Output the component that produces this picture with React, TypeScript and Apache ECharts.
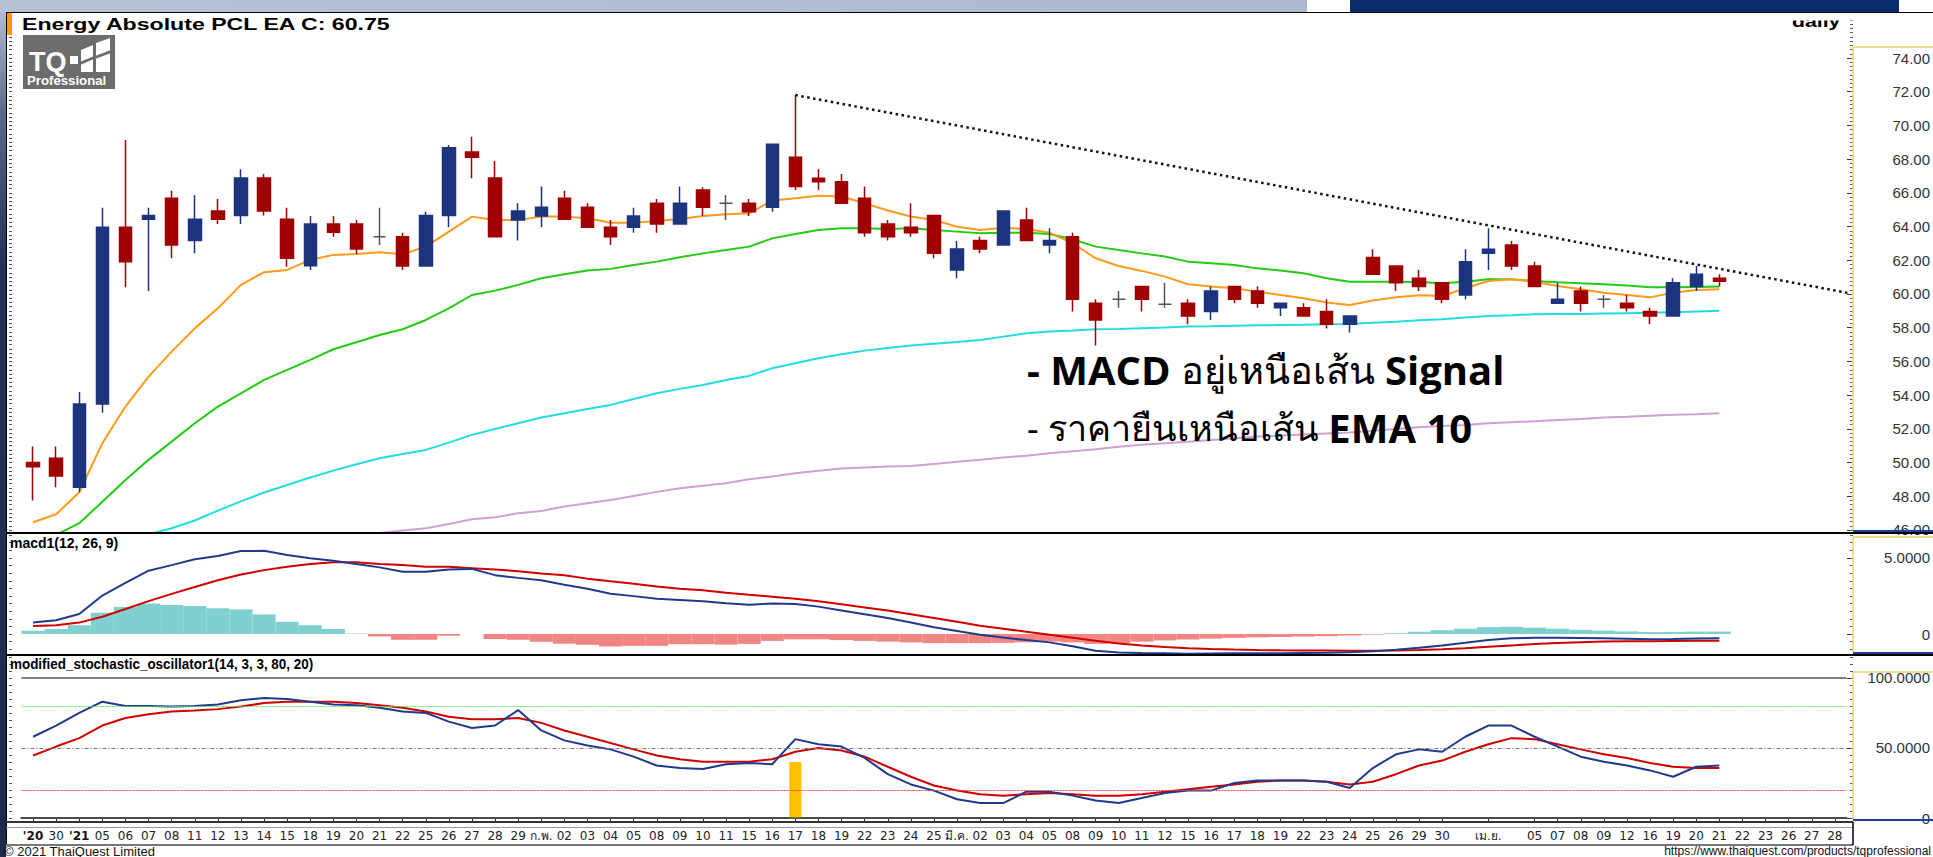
import React, { useEffect, useRef } from "react";
import * as echarts from "echarts";

// ---------- categories (trading days + future slots) ----------
const dateLabels = [
  "'20", "30", "'21", "05", "06", "07", "08", "11", "12", "13",
  "14", "15", "18", "19", "20", "21", "22", "25", "26", "27",
  "28", "29", "ก.พ.", "02", "03", "04", "05", "08", "09", "10",
  "11", "15", "16", "17", "18", "19", "22", "23", "24", "25",
  "มี.ค.", "02", "03", "04", "05", "08", "09", "10", "11", "12",
  "15", "16", "17", "18", "19", "22", "23", "24", "25", "26",
  "29", "30", "", "เม.ย.", "", "05", "07", "08", "09", "12",
  "16", "19", "20", "21", "22", "23", "26", "27", "28",
];

// ---------- price (OHLC) ----------
const opens = [
  50.0, 50.25, 48.53, 53.48, 63.96, 64.43, 65.68, 63.17, 64.92, 64.65,
  66.88, 64.43, 61.68, 64.15, 64.15, 63.4, 63.4, 61.66, 64.65, 68.42,
  66.88, 64.39, 64.63, 65.68, 65.14, 63.96, 63.96, 65.38, 64.15, 66.17,
  65.38, 65.38, 65.14, 68.11, 66.86, 66.66, 65.68, 64.15, 63.96, 64.65,
  61.43, 63.17, 62.91, 64.39, 62.91, 63.4, 59.45, 59.69, 60.44, 59.39,
  59.45, 58.96, 60.44, 60.18, 59.19, 59.19, 58.96, 58.2, 62.16, 61.66,
  60.93, 60.67, 59.94, 62.41, 62.91, 61.66, 59.45, 60.18, 59.69, 59.45,
  58.96, 58.7, 60.44, 60.93,
];
const closes = [
  49.75, 49.2, 53.48, 63.96, 61.92, 64.65, 62.91, 64.43, 64.43, 66.88,
  64.92, 62.12, 64.15, 63.66, 62.67, 63.4, 61.66, 64.65, 68.68, 68.11,
  63.4, 64.92, 65.14, 64.43, 63.96, 63.4, 64.63, 64.15, 65.38, 65.14,
  65.38, 64.88, 68.88, 66.37, 66.66, 65.38, 63.64, 63.4, 63.64, 62.41,
  62.67, 62.67, 64.92, 63.17, 63.17, 59.69, 58.46, 59.69, 59.69, 59.39,
  58.7, 60.18, 59.69, 59.45, 59.45, 58.7, 58.2, 58.7, 61.17, 60.67,
  60.44, 59.69, 61.92, 62.65, 61.66, 60.44, 59.69, 59.45, 59.69, 59.19,
  58.7, 60.67, 61.17, 60.75,
];
const lows = [
  47.75, 48.53, 48.24, 52.96, 60.4, 60.18, 62.12, 62.41, 64.15, 64.15,
  64.65, 61.62, 61.43, 63.4, 62.37, 62.91, 61.43, 61.66, 63.96, 66.86,
  63.4, 63.17, 63.96, 64.43, 63.96, 62.91, 63.64, 63.64, 64.15, 64.63,
  64.39, 64.63, 64.88, 66.17, 66.17, 65.38, 63.4, 63.17, 63.4, 62.12,
  60.93, 62.41, 62.91, 63.17, 62.41, 58.96, 56.94, 59.19, 58.96, 59.19,
  58.2, 58.46, 59.45, 59.19, 58.7, 58.7, 57.96, 57.71, 61.17, 60.18,
  60.18, 59.45, 59.69, 61.43, 61.43, 60.44, 59.45, 58.96, 59.19, 58.96,
  58.2, 58.7, 60.18, 60.44,
];
const highs = [
  50.95, 50.95, 54.19, 65.12, 69.14, 65.12, 66.13, 65.87, 65.64, 67.4,
  67.12, 65.12, 64.63, 64.63, 64.39, 65.12, 63.64, 64.88, 68.84, 69.33,
  67.89, 65.38, 66.37, 66.13, 65.38, 64.39, 65.12, 65.64, 66.37, 66.33,
  65.87, 65.64, 68.88, 71.8, 67.4, 67.12, 66.37, 64.39, 65.38, 64.65,
  63.15, 63.4, 64.92, 65.12, 63.9, 63.64, 59.69, 60.18, 60.44, 60.67,
  59.69, 60.44, 60.44, 60.44, 59.45, 59.45, 59.69, 58.7, 62.65, 61.66,
  61.43, 60.67, 62.65, 63.9, 63.15, 61.92, 60.67, 60.44, 59.94, 59.94,
  59.19, 60.93, 61.66, 61.17,
];

// ---------- moving averages ----------
const ema10 = [
  46.46, 46.93, 48.24, 51.15, 53.32, 55.1, 56.58, 57.96, 59.15, 60.54,
  61.29, 61.43, 62.02, 62.32, 62.37, 62.47, 62.36, 62.81, 63.7, 64.59,
  64.39, 64.39, 64.59, 64.59, 64.49, 64.23, 64.23, 64.33, 64.45, 64.63,
  64.73, 64.79, 65.54, 65.68, 65.83, 65.78, 65.38, 64.95, 64.6, 64.39,
  63.99, 63.8, 63.93, 63.86, 63.64, 63.01, 62.12, 61.66, 61.37, 61.03,
  60.58, 60.44, 60.34, 60.14, 59.94, 59.75, 59.49, 59.35, 59.61, 59.8,
  59.92, 59.88, 60.34, 60.77, 60.87, 60.73, 60.48, 60.28, 60.08, 59.94,
  59.8, 60.08, 60.24, 60.28,
];
const ema25 = [
  null, 45.71, 46.4, 47.68, 48.97, 50.16, 51.24, 52.33, 53.32, 54.11,
  54.9, 55.5, 56.09, 56.72, 57.14, 57.57, 57.91, 58.46, 59.15, 59.94,
  60.2, 60.54, 60.93, 61.17, 61.39, 61.49, 61.72, 61.92, 62.18, 62.41,
  62.61, 62.81, 63.3, 63.56, 63.8, 63.9, 63.9, 63.86, 63.9, 63.8,
  63.7, 63.6, 63.64, 63.64, 63.56, 63.25, 62.81, 62.61, 62.41, 62.22,
  61.92, 61.82, 61.72, 61.52, 61.39, 61.23, 60.93, 60.73, 60.73, 60.73,
  60.71, 60.63, 60.73, 60.87, 60.87, 60.77, 60.69, 60.63, 60.58, 60.5,
  60.4, 60.4, 60.42, 60.44,
];
const ema75 = [
  null, null, null, null, null, 45.75, 46.1, 46.56, 47.15, 47.7,
  48.22, 48.67, 49.11, 49.52, 49.9, 50.26, 50.51, 50.75, 51.18, 51.64,
  51.99, 52.33, 52.67, 52.92, 53.18, 53.42, 53.77, 54.11, 54.37, 54.6,
  54.9, 55.14, 55.6, 55.89, 56.19, 56.42, 56.64, 56.8, 56.95, 57.05,
  57.15, 57.27, 57.47, 57.67, 57.77, 57.83, 57.91, 57.93, 57.97, 58.01,
  58.07, 58.08, 58.12, 58.14, 58.16, 58.18, 58.2, 58.22, 58.3, 58.36,
  58.44, 58.5, 58.6, 58.7, 58.74, 58.8, 58.82, 58.82, 58.84, 58.86,
  58.88, 58.92, 58.96, 59.0,
];
const ema200 = [
  null, null, null, null, null, null, null, null, null, null,
  null, null, null, null, null, 45.82, 45.97, 46.1, 46.36, 46.64,
  46.76, 46.99, 47.13, 47.39, 47.59, 47.78, 48.02, 48.26, 48.48, 48.63,
  48.77, 49.01, 49.17, 49.37, 49.52, 49.64, 49.7, 49.76, 49.8, 49.92,
  50.04, 50.16, 50.3, 50.41, 50.55, 50.67, 50.79, 50.93, 51.05, 51.14,
  51.24, 51.34, 51.44, 51.54, 51.6, 51.66, 51.72, 51.78, 51.88, 51.99,
  52.09, 52.17, 52.23, 52.33, 52.39, 52.45, 52.53, 52.59, 52.67, 52.71,
  52.77, 52.83, 52.87, 52.93,
];
const trendStart = [33, 71.8];
const trendEnd = [78.5, 59.95];

// ---------- MACD(12,26,9) ----------
const macdLine = [
  0.75, 0.91, 1.31, 2.53, 3.36, 4.16, 4.53, 4.91, 5.13, 5.45,
  5.47, 5.2, 4.98, 4.82, 4.6, 4.38, 4.09, 4.09, 4.24, 4.28,
  3.87, 3.69, 3.53, 3.24, 2.98, 2.64, 2.49, 2.31, 2.24, 2.16,
  2.02, 1.93, 2.0, 1.97, 1.8, 1.55, 1.3, 1.05, 0.75, 0.45,
  0.2, -0.05, -0.23, -0.4, -0.55, -0.8, -1.1, -1.22, -1.25, -1.27,
  -1.29, -1.28, -1.27, -1.27, -1.27, -1.25, -1.23, -1.2, -1.14, -1.03,
  -0.9, -0.75, -0.58, -0.39, -0.28, -0.24, -0.24, -0.26, -0.28, -0.31,
  -0.34, -0.32, -0.29, -0.28,
];
const signalLine = [
  0.53, 0.58, 0.75, 1.13, 1.64, 2.16, 2.64, 3.09, 3.53, 3.91,
  4.2, 4.42, 4.6, 4.71, 4.71, 4.6, 4.53, 4.42, 4.42, 4.33,
  4.24, 4.13, 3.98, 3.87, 3.64, 3.47, 3.31, 3.13, 2.98, 2.87,
  2.72, 2.58, 2.45, 2.32, 2.15, 1.95, 1.75, 1.55, 1.3, 1.05,
  0.8, 0.55, 0.35, 0.15, -0.05, -0.25, -0.45, -0.62, -0.75, -0.85,
  -0.93, -0.98, -1.02, -1.05, -1.07, -1.08, -1.09, -1.1, -1.1, -1.08,
  -1.05, -1.0, -0.93, -0.84, -0.75, -0.66, -0.59, -0.54, -0.5, -0.48,
  -0.47, -0.46, -0.45, -0.44,
];
const macdHist = [
  0.22, 0.33, 0.58, 1.4, 1.78, 2.0, 1.91, 1.84, 1.69, 1.62,
  1.29, 0.8, 0.58, 0.33, 0.03, -0.16, -0.38, -0.38, -0.11, 0,
  -0.33, -0.38, -0.51, -0.64, -0.71, -0.82, -0.78, -0.78, -0.67, -0.67,
  -0.7, -0.65, -0.45, -0.35, -0.35, -0.4, -0.45, -0.5, -0.55, -0.6,
  -0.6, -0.6, -0.58, -0.55, -0.5, -0.55, -0.65, -0.6, -0.5, -0.42,
  -0.36, -0.3, -0.25, -0.22, -0.2, -0.17, -0.14, -0.1, -0.04, 0.05,
  0.15, 0.25, 0.35, 0.45, 0.47, 0.42, 0.35, 0.28, 0.22, 0.17,
  0.13, 0.14, 0.16, 0.16,
];

// ---------- modified stochastic (14,3,3,80,20) ----------
const stochK = [
  58, 66, 75, 83, 80, 80, 79.5, 80, 81, 84,
  85.7, 85, 83, 81, 80.4, 78.6, 76, 75, 68.8, 64.3,
  66, 77, 62.5, 55.4, 51.8, 49, 43.8, 37.5, 35.7, 35,
  38.4, 39.3, 38.4, 56.3, 52.7, 51, 42.9, 31.3, 24, 19.6,
  13.4, 10.7, 10.7, 18.8, 18.8, 16, 12.5, 10.7, 14.3, 17.9,
  19.6, 19.6, 25, 26.8, 26.8, 26.8, 25.9, 21.4, 35.7, 45.5,
  49, 47.3, 58, 66, 66, 58, 51, 43.8, 40.2, 37.5,
  34, 29.5, 36.6, 37.5,
];
const stochD = [
  44.6, 51, 57, 66, 71.4, 74, 76, 76.8, 77.7, 79.5,
  82, 83, 83, 83, 82, 80.4, 78.6, 76, 72.3, 70.5,
  70.5, 71.4, 67.9, 62.5, 58, 53.6, 49, 44.6, 42, 40.2,
  40.2, 40.2, 42, 47.3, 50, 48.2, 43.8, 36.6, 29.5, 23.2,
  19.6, 17, 16, 17, 17.9, 17, 16, 16, 17, 18.8,
  20.5, 22.3, 24, 25.9, 26.8, 26.8, 25.9, 24, 25.9, 31.3,
  37.5, 41, 47.3, 52.7, 57, 56.3, 52.7, 49, 45.5, 42.9,
  39.3, 36.6, 35.7, 35.7,
];
const stochSignalIndex = 33;
const stochSignalValue = 40;
const stochLevels = [100, 80, 50, 20, 0];

// ---------- axis label values ----------
const priceLabels = [46, 48, 50, 52, 54, 56, 58, 60, 62, 64, 66, 68, 70, 72, 74];
const macdLabels = [0, 5];
const stochLabels = [0, 50, 100];

const W = 1933;
const H = 857;
const AX = 1853; // x of the right axis line
const GL = 21.5; // grid left
const GR = W - (GL + 79 * 23.1); // grid right (slot width 23.1)

function range(a: number, b: number, step: number) {
  const out: number[] = [];
  for (let v = a; v <= b + 1e-9; v += step) out.push(Math.round(v * 1000) / 1000);
  return out;
}

function buildOption() {
  const N = dateLabels.length;
  const pad = (arr: any[]) => arr.concat(new Array(N - arr.length).fill(null));
  const candles = opens.map((o, i) => [o, closes[i], lows[i], highs[i]]);
  const hist = macdHist.map((v) => ({
    value: v,
    itemStyle: { color: v >= 0 ? "#80d0d0" : "#f28482" },
  }));
  const signalBars = dateLabels.map((_, i) => (i === stochSignalIndex ? stochSignalValue : null));

  const grids = [
    { left: GL, right: GR, top: 12, height: 521 },
    { left: GL, right: GR, top: 533, height: 122 },
    { left: GL, right: GR, top: 655, height: 167 },
  ];
  const ranges = [
    [45.82, 76.73],
    [-1.38, 6.64],
    [-2.8, 116.3],
  ];
  const labelSets = [priceLabels, macdLabels, stochLabels];
  const fmt = [
    (v: number) => v.toFixed(2),
    (v: number) => (v === 0 ? "0" : v.toFixed(4)),
    (v: number) => (v === 0 ? "0" : v.toFixed(4)),
  ];
  const tickSteps = [0.25, 0.5, 5];
  const gridRightX = W - GR;

  const yAxis: any[] = [];
  for (let g = 0; g < 3; g++) {
    const [mn, mx] = ranges[g];
    yAxis.push({
      type: "value", gridIndex: g, position: "right", min: mn, max: mx,
      offset: AX - gridRightX,
      axisLine: { show: false }, splitLine: { show: false },
      axisTick: { show: true, inside: true, length: 6, customValues: labelSets[g], lineStyle: { color: "#333" } },
      axisLabel: {
        customValues: labelSets[g], formatter: fmt[g], align: "right", margin: 1930 - AX,
        fontSize: 15, color: "#333", fontFamily: "Liberation Sans, Arial, sans-serif",
      },
    });
    const ticks = range(Math.ceil(mn / tickSteps[g]) * tickSteps[g], mx, tickSteps[g]);
    yAxis.push({
      type: "value", gridIndex: g, position: "right", min: mn, max: mx,
      offset: AX - gridRightX,
      axisLine: { show: false }, splitLine: { show: false }, axisLabel: { show: false },
      axisTick: { show: true, inside: true, length: 3, customValues: ticks, lineStyle: { color: "#555" } },
    });
    yAxis.push({
      type: "value", gridIndex: g, position: "left", min: mn, max: mx,
      offset: GL - 9,
      axisLine: { show: false }, splitLine: { show: false }, axisLabel: { show: false },
      axisTick: { show: true, inside: true, length: 3, customValues: ticks, lineStyle: { color: "#555" } },
    });
  }

  const xAxis: any[] = [0, 1, 2].map((g) => ({
    type: "category", gridIndex: g, data: dateLabels, boundaryGap: true,
    show: g === 2,
    axisLine: { show: true, lineStyle: { color: "#333", width: 2 } },
    axisTick: {
      show: true, alignWithLabel: true, length: 4, lineStyle: { color: "#333" },
      interval: (i: number) => dateLabels[i] !== "",
    },
    axisLabel: {
      interval: 0, fontSize: 12, color: "#222", margin: 8,
      fontFamily: "DejaVu Sans, Tahoma, sans-serif",
      formatter: (v: string) => (v.startsWith("'") ? `{b|${v}}` : v),
      rich: { b: { fontWeight: "bold", fontSize: 12, fontFamily: "DejaVu Sans, sans-serif", color: "#111" } },
    },
  }));

  const lineS = (name: string, data: any[], color: string, xi: number, yi: number, width = 2) => ({
    name, type: "line", data: pad(data), xAxisIndex: xi, yAxisIndex: yi,
    symbol: "none", showSymbol: false, connectNulls: false, clip: true,
    lineStyle: { color, width }, silent: true, z: 3,
  });

  const series: any[] = [
    lineS("EMA200", ema200, "#cf9fd6", 0, 0),
    lineS("EMA75", ema75, "#22dde0", 0, 0),
    lineS("EMA25", ema25, "#22cc11", 0, 0),
    lineS("EMA10", ema10, "#ff9a1a", 0, 0),
    {
      name: "EA", type: "candlestick", xAxisIndex: 0, yAxisIndex: 0, data: candles,
      barWidth: 13, z: 4,
      itemStyle: {
        color: "#1c347e", color0: "#a00000", borderColor: "#1c347e", borderColor0: "#a00000",
        borderColorDoji: "#555555", borderWidth: 1.5,
      },
    },
    {
      name: "trend", type: "line", xAxisIndex: 0, yAxisIndex: 0, data: [trendStart, trendEnd],
      symbol: "none", clip: false, lineStyle: { color: "#111", width: 2.5, type: [2.5, 3.5] }, z: 5, silent: true,
    },
    {
      name: "hist", type: "bar", xAxisIndex: 1, yAxisIndex: 3, data: pad(hist),
      barCategoryGap: "0%", z: 2, silent: true,
    },
    lineS("Signal", signalLine, "#d00000", 1, 3),
    lineS("MACD", macdLine, "#1f3a8c", 1, 3),
    {
      name: "sig", type: "bar", xAxisIndex: 2, yAxisIndex: 6, data: signalBars, barWidth: 12,
      itemStyle: { color: "#ffc000" }, z: 2, silent: true,
    },
    {
      ...lineS("%D", stochD, "#d00000", 2, 6),
      markLine: {
        silent: true, symbol: "none", label: { show: false }, animation: false,
        data: [
          { yAxis: stochLevels[0], lineStyle: { color: "#555", width: 1.5, type: "solid" } },
          { yAxis: stochLevels[1], lineStyle: { color: "#55ee55", width: 1, type: [2, 1] } },
          { yAxis: stochLevels[2], lineStyle: { color: "#777", width: 1, type: [4, 2, 1, 2] } },
          { yAxis: stochLevels[3], lineStyle: { color: "#ee4444", width: 1, type: [2, 1] } },
          { yAxis: stochLevels[4], lineStyle: { color: "#555", width: 1.5, type: "solid" } },
        ],
      },
    },
    lineS("%K", stochK, "#1f3a8c", 2, 6),
  ];

  const txt = (x: number, y: number, text: string, o: any = {}) => ({
    type: "text", x, y, z: 100, silent: true,
    style: { text, fill: "#000", font: "bold 14px 'Liberation Sans', Arial, sans-serif", textVerticalAlign: "middle", ...o },
  });
  const ln = (x1: number, y1: number, x2: number, y2: number, stroke: string, w = 1) => ({
    type: "line", z: 100, silent: true, shape: { x1, y1, x2, y2 }, style: { stroke, lineWidth: w },
  });
  const rc = (x: number, y: number, width: number, height: number, fill: any, z = 90) => ({
    type: "rect", z, silent: true, shape: { x, y, width, height }, style: { fill },
  });

  const graphic: any[] = [
    // window frame
    rc(0, 0, W, 12, new echarts.graphic.LinearGradient(0, 0, 1, 0, [
      { offset: 0, color: "#b6c1d6" }, { offset: 1, color: "#a9b6cd" },
    ])),
    rc(1307, 0, 43, 12, "#ffffff"),
    rc(1350, 0, 549, 12, "#0b2c6c"),
    rc(1899, 0, 34, 12, "#ffffff"),
    rc(0, 12, 6, 845, new echarts.graphic.LinearGradient(0, 0, 0, 1, [
      { offset: 0, color: "#b0bbcf" }, { offset: 0.12, color: "#5a6a8c" }, { offset: 0.3, color: "#22325a" }, { offset: 1, color: "#1c2a4c" },
    ])),
    ln(6, 12.5, W, 12.5, "#000", 1),
    ln(6.5, 12, 6.5, 845, "#000", 1),
    rc(7, 13, 5, 22, "#ff9a00"),
    // title
    { ...txt(22, 24, "Energy Absolute PCL EA C: 60.75", { font: "bold 17px 'Liberation Sans', Arial, sans-serif" }), scaleX: 1.36, originX: 0 },
    // logo
    rc(23, 35, 92, 54, "#6c6c6c", 95),
    { ...txt(29, 62, "TQ", { fill: "#fff", font: "bold 27px 'Liberation Sans', Arial, sans-serif" }), z: 101 },
    { type: "rect", z: 101, silent: true, shape: { x: 70, y: 56, width: 8, height: 8 }, style: { fill: "#fff" } },
    { type: "polygon", z: 101, silent: true, shape: { points: [[81, 72], [81, 50], [93, 45], [93, 72]] }, style: { fill: "#fff" } },
    { type: "polygon", z: 101, silent: true, shape: { points: [[96, 72], [96, 43], [110, 38], [110, 72]] }, style: { fill: "#fff" } },
    { type: "polygon", z: 102, silent: true, shape: { points: [[80, 62], [94, 56], [94, 59], [80, 65]] }, style: { fill: "#6c6c6c" } },
    { type: "polygon", z: 102, silent: true, shape: { points: [[95, 56], [111, 50], [111, 53], [95, 59]] }, style: { fill: "#6c6c6c" } },
    { ...txt(27, 81, "Professional", { fill: "#fff", font: "bold 12px 'Liberation Sans', Arial, sans-serif" }), z: 101, scaleX: 1.1, originX: 0 },
    // "daily" label, partly clipped by the frame
    { ...txt(1792, 21, "daily", { font: "bold 17px 'Liberation Sans', Arial, sans-serif" }), scaleX: 1.25, originX: 0 },
    rc(1780, 13, 90, 7.5, "#ffffff", 101),
    // annotations
    {
      type: "text", x: 1027, y: 369, z: 120, silent: true,
      style: {
        text: "{b|- MACD }{n|อยู่เหนือเส้น }{b|Signal}", textVerticalAlign: "middle",
        rich: {
          b: { font: "bold 40px 'Open Sans', 'Noto Sans', sans-serif", fill: "#000" },
          n: { font: "38px 'Noto Sans', 'Open Sans', sans-serif", fill: "#000" },
        },
      },
    },
    {
      type: "text", x: 1027, y: 427, z: 120, silent: true,
      style: {
        text: "{n|- ราคายืนเหนือเส้น }{b|EMA 10}", textVerticalAlign: "middle",
        rich: {
          b: { font: "bold 40px 'Open Sans', 'Noto Sans', sans-serif", fill: "#000" },
          n: { font: "36px 'Noto Sans', 'Open Sans', sans-serif", fill: "#000" },
        },
      },
    },
    // panel headers
    txt(10, 543, "macd1(12, 26, 9)", { font: "bold 14px 'Liberation Sans', Arial, sans-serif" }),
    { ...txt(10, 664, "modified_stochastic_oscillator1(14, 3, 3, 80, 20)", { font: "bold 14px 'Liberation Sans', Arial, sans-serif" }), scaleX: 0.96, originX: 0 },
    // dividers
    ln(6, 533, W, 533, "#000", 2),
    ln(6, 655, W, 655, "#000", 2),
    ln(AX, 531, W, 531, "#1c3fa3", 2),
    ln(AX, 653, W, 653, "#1c3fa3", 2),
    ln(AX, 820, W, 820, "#1c3fa3", 2),
    // right axis boxes (yellow)
    ln(AX, 47, AX, 530, "#f4cf66", 1.5),
    ln(AX, 47, W, 47, "#f4cf66", 1.5),
    ln(AX, 537, AX, 652, "#f4cf66", 1.5),
    ln(AX, 537, W, 537, "#f4cf66", 1.5),
    ln(AX, 672, AX, 819, "#f4cf66", 1.5),
    ln(AX, 672, W, 672, "#f4cf66", 1.5),
    // x label row
    ln(6, 822, AX, 822, "#333", 2),
    ln(6, 827.5, AX, 827.5, "#999", 1),
    ln(6, 845, AX, 845, "#777", 2),
    ln(AX, 822, AX, 845, "#000", 1.5),
    // footer
    txt(4, 851, "© 2021 ThaiQuest Limited", { font: "13px 'Liberation Sans', Arial, sans-serif", fill: "#111" }),
    txt(W - 2, 851, "https://www.thaiquest.com/products/tqprofessional", {
      font: "12px 'Liberation Sans', Arial, sans-serif", fill: "#111", textAlign: "right",
    }),
  ];

  return {
    animation: false,
    backgroundColor: "#ffffff",
    grid: grids,
    xAxis,
    yAxis,
    series,
    graphic,
  };
}

export default function App() {
  const ref = useRef<HTMLDivElement>(null);
  useEffect(() => {
    if (!ref.current) return;
    const chart = echarts.init(ref.current, null, { renderer: "svg" });
    chart.setOption(buildOption() as any);
    return () => chart.dispose();
  }, []);
  return (
    <div
      ref={ref}
      style={{ position: "fixed", left: 0, top: 0, width: W, height: H, background: "#fff" }}
    />
  );
}
